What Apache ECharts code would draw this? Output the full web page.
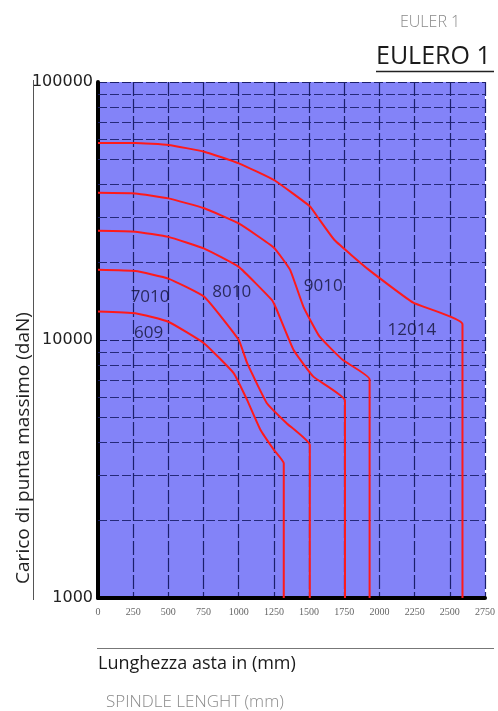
<!DOCTYPE html>
<html>
<head>
<meta charset="utf-8">
<script src="https://cdn.jsdelivr.net/npm/echarts@6/dist/echarts.min.js"></script>
<style>
html,body{margin:0;padding:0;background:#fff;}
#c{width:498px;height:711px;}
</style>
</head>
<body>
<div id="c"></div>
<script>
// ---- data ----
const xTicks = [0, 250, 500, 750, 1000, 1250, 1500, 1750, 2000, 2250, 2500, 2750];
const yTicks = [1000, 10000, 100000];
const minorLoads = [2000, 3000, 4000, 5000, 6000, 7000, 8000, 9000,
                    20000, 30000, 40000, 50000, 60000, 70000, 80000, 90000];

const len12014  = [0, 265, 500, 755, 1000, 1250, 1505, 1575, 1680, 1925, 2240, 2590, 2590];
const load12014 = [58000, 58000, 57000, 53700, 48400, 41700, 33000, 29200, 24400, 18700, 13950, 11500, 1000];

const len9010  = [0, 265, 500, 755, 1000, 1250, 1365, 1460, 1575, 1740, 1930, 1930];
const load9010 = [37200, 37000, 35400, 32400, 28300, 22800, 18700, 13450, 10300, 8360, 7040, 1000];

const len8010  = [0, 265, 500, 755, 1000, 1235, 1270, 1390, 1530, 1755, 1755];
const load8010 = [26500, 26300, 25100, 22600, 19200, 14300, 13100, 9140, 7210, 5830, 1000];

const len7010  = [0, 265, 500, 755, 1000, 1060, 1200, 1340, 1505, 1505];
const load7010 = [18700, 18500, 17300, 14700, 10000, 8130, 5690, 4760, 3920, 1000];

const len609  = [0, 265, 500, 755, 965, 1060, 1155, 1250, 1320, 1320];
const load609 = [12900, 12700, 11770, 9700, 7430, 5850, 4480, 3750, 3330, 1000];

const curveNames = ['12014', '9010', '8010', '7010', '609'];
const labelNames = ['7010', '609', '8010', '9010', '12014'];
const labelLen   = [370, 360, 950, 1600, 2230];
const labelLoad  = [14700, 10650, 15350, 16100, 10940];

// ---- chart ----
const zip = (a, b) => a.map((v, i) => [v, b[i]]);
const curves = [
  zip(len12014, load12014),
  zip(len9010, load9010),
  zip(len8010, load8010),
  zip(len7010, load7010),
  zip(len609, load609)
];

const chart = echarts.init(document.getElementById('c'), null, {renderer: 'canvas'});

const gridColor = '#1b1f6b';
const series = curves.map((d, i) => ({
  name: curveNames[i],
  type: 'line',
  data: d,
  showSymbol: false,
  smooth: 0.12,
  lineStyle: {color: '#ff1a1a', width: 2},
  z: 5,
  silent: true
}));

series.push({
  name: 'minor',
  type: 'line',
  data: [],
  silent: true,
  markLine: {
    silent: true,
    symbol: ['none', 'none'],
    label: {show: false},
    lineStyle: {color: gridColor, type: [9, 3], width: 1.2, opacity: 0.9},
    data: minorLoads.map(v => ({yAxis: v}))
  }
});

series.push({
  name: 'labels',
  type: 'scatter',
  data: labelNames.map((n, i) => ({name: n, value: [labelLen[i], labelLoad[i]]})),
  symbolSize: 0,
  silent: true,
  z: 6,
  label: {
    show: true,
    position: 'inside',
    formatter: p => p.name,
    color: '#121233',
    fontSize: 17,
    fontFamily: 'Open Sans'
  }
});

chart.setOption({
  animation: false,
  backgroundColor: '#ffffff',
  grid: {
    left: 98, top: 82, right: 7, bottom: 113,
    show: true, backgroundColor: '#8383f8', borderWidth: 0
  },
  xAxis: {
    type: 'value',
    min: 0, max: 2750, interval: 250,
    axisLine: {show: true, lineStyle: {color: '#000', width: 4}},
    axisTick: {show: false},
    axisLabel: {
      color: '#666', fontSize: 10, fontFamily: 'Liberation Serif', margin: 9,
      formatter: v => xTicks.includes(v) ? String(v) : ''
    },
    splitLine: {show: true, lineStyle: {color: gridColor, type: [14, 3], width: 1.2}}
  },
  yAxis: {
    type: 'log',
    logBase: 10,
    min: 1000, max: 100000,
    axisLine: {show: true, onZero: false, lineStyle: {color: '#000', width: 4}},
    axisTick: {show: false},
    axisLabel: {
      color: '#222', fontSize: 16, fontFamily: 'DejaVu Sans', margin: 5,
      formatter: v => yTicks.includes(Math.round(v)) ? String(Math.round(v)) : ''
    },
    splitLine: {show: true, lineStyle: {color: gridColor, type: [9, 3], width: 1.2}}
  },
  graphic: [
    {type: 'text', left: 400, top: 14,
     style: {text: 'EULER 1', fill: '#8a8a8a', fontSize: 16, fontFamily: 'Open Sans', fontWeight: 300}},
    {type: 'text', left: 376, top: 44,
     style: {text: 'EULERO 1', fill: '#1a1a1a', fontSize: 25, fontFamily: 'Open Sans'}},
    {type: 'line', shape: {x1: 376, y1: 71.5, x2: 494, y2: 71.5}, style: {stroke: '#222', lineWidth: 1.5}},
    {type: 'line', shape: {x1: 33.5, y1: 80, x2: 33.5, y2: 600}, style: {stroke: '#555', lineWidth: 1}},
    {type: 'text', x: 24, y: 448, rotation: Math.PI / 2,
     style: {text: 'Carico di punta massimo (daN)', fill: '#222', fontSize: 19,
             fontFamily: 'Open Sans', align: 'center', verticalAlign: 'middle'}},
    {type: 'line', shape: {x1: 97, y1: 648.5, x2: 494, y2: 648.5}, style: {stroke: '#777', lineWidth: 1}},
    {type: 'text', left: 98, top: 655,
     style: {text: 'Lunghezza asta in (mm)', fill: '#1a1a1a', fontSize: 18, fontFamily: 'Open Sans'}},
    {type: 'text', left: 106, top: 694,
     style: {text: 'SPINDLE LENGHT (mm)', fill: '#8a8a8a', fontSize: 17, fontFamily: 'Open Sans', fontWeight: 300}}
  ],
  series: series
});
</script>
</body>
</html>
